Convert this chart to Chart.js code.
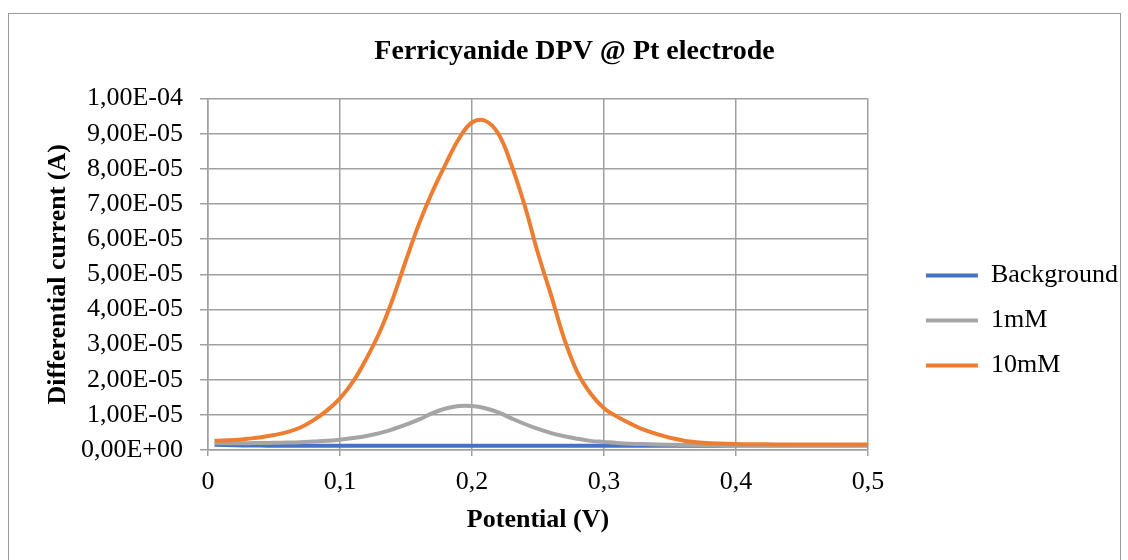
<!DOCTYPE html>
<html>
<head>
<meta charset="utf-8">
<script src="https://cdn.jsdelivr.net/npm/chart.js@4.4.1/dist/chart.umd.min.js"></script>
<style>
  body { margin: 0; background: #fff; }
  #wrap { position: relative; width: 1128px; height: 560px; }
  #frame { position: absolute; left: 8px; top: 13px; width: 1111px; height: 560px; border: 1px solid #9a9a9a; pointer-events: none; }
  canvas { position: absolute; left: 0; top: 0; }
</style>
</head>
<body>
<div id="wrap">
  <canvas id="myChart" width="1128" height="560"></canvas>
  <div id="frame"></div>
</div>
<script>
// potential (V)
const potential = [0.005, 0.02, 0.03, 0.04, 0.05, 0.06, 0.07, 0.08, 0.09, 0.10, 0.11, 0.12, 0.13, 0.14, 0.15, 0.16, 0.17, 0.18, 0.19, 0.20, 0.21, 0.22, 0.23, 0.24, 0.25, 0.26, 0.27, 0.28, 0.29, 0.30, 0.31, 0.32, 0.33, 0.35, 0.37, 0.40, 0.43, 0.46, 0.50];

// differential current (A)
const background = [1.5e-6, 1.35e-6, 1.3e-6, 1.25e-6, 1.2e-6, 1.2e-6, 1.2e-6, 1.2e-6, 1.2e-6, 1.2e-6, 1.2e-6, 1.2e-6, 1.2e-6, 1.2e-6, 1.2e-6, 1.2e-6, 1.2e-6, 1.2e-6, 1.2e-6, 1.2e-6, 1.2e-6, 1.2e-6, 1.2e-6, 1.2e-6, 1.2e-6, 1.2e-6, 1.2e-6, 1.2e-6, 1.2e-6, 1.2e-6, 1.2e-6, 1.2e-6, 1.2e-6, 1.2e-6, 1.2e-6, 1.25e-6, 1.25e-6, 1.25e-6, 1.3e-6];
const conc1mM = [1.9e-6, 1.9e-6, 1.95e-6, 2.0e-6, 2.05e-6, 2.1e-6, 2.2e-6, 2.4e-6, 2.6e-6, 2.9e-6, 3.4e-6, 4.0e-6, 4.8e-6, 5.9e-6, 7.2e-6, 8.7e-6, 1.05e-5, 1.18e-5, 1.25e-5, 1.25e-5, 1.19e-5, 1.07e-5, 9.0e-6, 7.4e-6, 6.0e-6, 4.8e-6, 3.9e-6, 3.2e-6, 2.6e-6, 2.3e-6, 2.0e-6, 1.8e-6, 1.7e-6, 1.5e-6, 1.4e-6, 1.35e-6, 1.35e-6, 1.35e-6, 1.4e-6];
const conc10mM = [2.6e-6, 2.85e-6, 3.2e-6, 3.6e-6, 4.25e-6, 5.1e-6, 6.4e-6, 8.5e-6, 1.12e-5, 1.47e-5, 1.95e-5, 2.6e-5, 3.35e-5, 4.3e-5, 5.4e-5, 6.45e-5, 7.35e-5, 8.13e-5, 8.85e-5, 9.32e-5, 9.37e-5, 9.0e-5, 8.1e-5, 6.95e-5, 5.6e-5, 4.4e-5, 3.15e-5, 2.2e-5, 1.6e-5, 1.19e-5, 9.5e-6, 7.5e-6, 5.8e-6, 3.5e-6, 2.2e-6, 1.7e-6, 1.6e-6, 1.6e-6, 1.6e-6];

const seriesNames = ['Background', '1mM', '10mM'];
const seriesColors = ['#4472C4', '#A5A5A5', '#ED7D31'];

const serif = 'Liberation Serif, Times New Roman, serif';
const gridColor = '#a0a0a0';

function points(ys) {
    return potential.map((x, i) => ({x: x, y: ys[i]}));
}

function sciLabel(v) {
    if (Math.abs(v) < 1e-12) return '0,00E+00';
    const parts = v.toExponential(2).split('e');
    const n = parseInt(parts[1], 10);
    return parts[0].replace('.', ',') + 'E' + (n < 0 ? '-' : '+') + String(Math.abs(n)).padStart(2, '0');
}

const data = {
    datasets: [background, conc1mM, conc10mM].map((ys, i) => ({
        label: seriesNames[i],
        data: points(ys),
        borderColor: seriesColors[i],
        backgroundColor: seriesColors[i],
        borderWidth: 4,
        pointRadius: 0,
        tension: 0.4,
        order: 3 - i
    }))
};

const config = {
    type: 'line',
    data: data,
    options: {
        responsive: false,
        animation: false,
        devicePixelRatio: 1,
        layout: {
            padding: {top: 20, bottom: 24, left: 21, right: 0}
        },
        plugins: {
            title: {
                display: true,
                text: 'Ferricyanide DPV @ Pt electrode',
                color: '#000',
                font: {family: serif, size: 28, weight: 'bold'},
                padding: {top: 15, bottom: 30}
            },
            legend: {
                position: 'right',
                maxWidth: 400,
                title: {
                    // empty title only used to push the entries down
                    display: true,
                    text: ' ',
                    font: {size: 10, lineHeight: 1},
                    padding: {top: 75, bottom: 0}
                },
                labels: {
                    usePointStyle: true,
                    pointStyle: 'line',
                    pointStyleWidth: 52,
                    padding: 19,
                    color: '#000',
                    font: {family: serif, size: 26},
                    sort: (a, b) => a.datasetIndex - b.datasetIndex
                }
            },
            tooltip: {enabled: false}
        },
        scales: {
            x: {
                type: 'linear',
                min: 0,
                max: 0.5,
                grid: {color: gridColor, lineWidth: 1.5, tickLength: 6},
                border: {color: gridColor, width: 1.5},
                ticks: {
                    stepSize: 0.1,
                    padding: 11,
                    color: '#000',
                    font: {family: serif, size: 26},
                    maxRotation: 0,
                    callback: v => String(+v.toFixed(1)).replace('.', ',')
                },
                title: {
                    display: true,
                    text: 'Potential (V)',
                    color: '#000',
                    font: {family: serif, size: 26, weight: 'bold'},
                    padding: {top: 0, bottom: 0}
                },
                afterFit: s => { s.height = 86; }
            },
            y: {
                min: 0,
                max: 1e-4,
                grid: {color: gridColor, lineWidth: 1.5, tickLength: 8},
                border: {color: gridColor, width: 1.5},
                ticks: {
                    stepSize: 1e-5,
                    padding: 17,
                    color: '#000',
                    font: {family: serif, size: 26},
                    callback: v => sciLabel(v)
                },
                title: {
                    display: true,
                    text: 'Differential current (A)',
                    color: '#000',
                    font: {family: serif, size: 26, weight: 'bold'},
                    padding: {top: 21.4, bottom: 0}
                },
                afterFit: s => { s.width = 187; }
            },
            gap: {
                type: 'linear',
                position: 'right',
                display: true,
                grid: {display: false},
                border: {display: false},
                ticks: {display: false},
                afterFit: s => { s.width = 39; }
            }
        }
    }
};

const ctx = document.getElementById('myChart');
new Chart(ctx, config);
</script>
</body>
</html>
